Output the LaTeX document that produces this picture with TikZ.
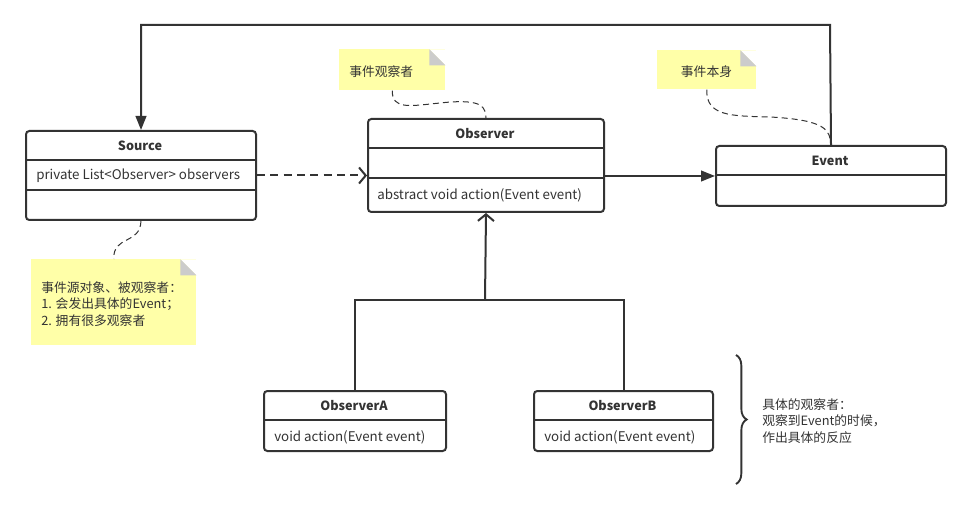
\documentclass[tikz,border=0pt]{standalone}
\usepackage{fontspec}
\setmainfont{Noto Sans CJK SC}
\usetikzlibrary{arrows.meta,decorations.pathreplacing}
\definecolor{lc}{HTML}{333333}
\definecolor{notey}{HTML}{FFFFA8}
\definecolor{foldg}{HTML}{CCCCCC}
\tikzset{
  umlbox/.style={draw=lc, line width=1.5pt, rounded corners=2.5pt, anchor=north west, inner sep=0pt, fill=white},
  sepline/.style={draw=lc, line width=1.5pt},
  ttl/.style={font=\fontsize{9.5}{11}\selectfont\bfseries, text=lc, inner sep=0pt},
  attr/.style={font=\fontsize{10}{12}\selectfont, text=lc, inner sep=0pt, anchor=west},
  note/.style={fill=notey, anchor=north west, inner sep=0pt,
    path picture={
      \fill[white] (path picture bounding box.north east) -- ++(-12pt,0) -- ++(12pt,-12pt) -- cycle;
      \fill[foldg] (path picture bounding box.north east) ++(-12pt,0) -- ++(0,-12pt) -- ++(12pt,0) -- cycle;
    }},
  notetxt/.style={font=\fontsize{9.6}{12.4}\selectfont, text=lc, inner sep=0pt, align=left},
  conn/.style={draw=lc, line width=1.5pt},
  notelink/.style={draw=lc, line width=0.75pt, dash pattern=on 4.5pt off 3pt},
}
\begin{document}
\begin{tikzpicture}[x=0.75pt, y=-0.75pt]
\fill[white] (0,0) rectangle (970,509);
\useasboundingbox (0,0) rectangle (970,509);

% Source
\node[umlbox, minimum width=230*0.75pt, minimum height=89*0.75pt] (src) at (25,130) {};
\draw[sepline] (src.west |- 0,160) -- (src.east |- 0,160);
\draw[sepline] (src.west |- 0,190) -- (src.east |- 0,190);
\node[ttl] (srcT) at (140,146) {Source};
\node[attr] (srcA) at (36,176) {private List<Observer> observers};

% Observer
\node[umlbox, minimum width=236*0.75pt, minimum height=93*0.75pt] (obs) at (367,118) {};
\draw[sepline] (obs.west |- 0,148) -- (obs.east |- 0,148);
\draw[sepline] (obs.west |- 0,178) -- (obs.east |- 0,178);
\node[ttl] (obsT) at (485,134) {Observer};
\node[attr] (obsA) at (377,195) {abstract void action(Event event)};

% Event
\node[umlbox, minimum width=230*0.75pt, minimum height=60*0.75pt] (evt) at (715,145) {};
\draw[sepline] (evt.west |- 0,175) -- (evt.east |- 0,175);
\node[ttl] (evtT) at (830,161) {Event};

% ObserverA / B
\node[umlbox, minimum width=182*0.75pt, minimum height=60*0.75pt] (oa) at (263,390) {};
\draw[sepline] (oa.west |- 0,420) -- (oa.east |- 0,420);
\node[ttl] (oaT) at (354,406) {ObserverA};
\node[attr] (oaA) at (274,437) {void action(Event event)};

\node[umlbox, minimum width=179*0.75pt, minimum height=60*0.75pt] (ob) at (533,390) {};
\draw[sepline] (ob.west |- 0,420) -- (ob.east |- 0,420);
\node[ttl] (obT) at (622.5,406) {ObserverB};
\node[attr] (obA) at (544,437) {void action(Event event)};

% Notes
\node[note, minimum width=165*0.75pt, minimum height=86*0.75pt] (srcN) at (31,259) {};
\node[notetxt, anchor=west] (srcNT) at (41,304) {事件源对象、被观察者：\\1. 会发出具体的Event；\\2. 拥有很多观察者};

\node[note, minimum width=106*0.75pt, minimum height=41*0.75pt] (obsN) at (339,49) {};
\node[notetxt, anchor=west] (obsNT) at (349,72) {事件观察者};

\node[note, minimum width=99*0.75pt, minimum height=39*0.75pt] (evtN) at (657,50) {};
\node[notetxt] (evtNT) at (706.5,72) {事件本身};

% Note links
\draw[notelink] (src.south) .. controls (140,245) and (113,235) .. (srcN.north);
\draw[notelink] (obsN.south) .. controls (392,110) and (410,106) .. (440,103) .. controls (485,98) and (485,108) .. (obs.north);
\draw[notelink] (evtN.south) .. controls (706,116) and (730,116) .. (770,117) .. controls (826,120) and (830,130) .. (evt.north);

% Connectors
\coordinate (topR) at (830,25);
\draw[conn, -{Triangle[length=10.5pt,width=8pt]}] (evt.north) -- (topR) -- (topR -| src.north) -- (src.north);
\draw[conn, dash pattern=on 6pt off 4pt, -{Straight Barb[length=5pt,width=12pt]}] (src.east) -- (src.east -| obs.west);
\draw[conn, -{Triangle[length=10.5pt,width=8pt]}] (evt.west -| obs.east) -- (evt.west);
\coordinate (junc) at (485,300);
\draw[conn] (oa.north) -- (oa.north |- junc) -- (ob.north |- junc) -- (ob.north);
\draw[conn, -{Straight Barb[length=5pt,width=12pt]}] (junc) -- (obs.south);

% Brace
\draw[draw=lc, line width=1.4pt, decorate, decoration={brace, amplitude=8pt}] (736,355) -- (736,484);
\node[notetxt, anchor=west] (braceT) at (762,421) {具体的观察者：\\观察到Event的时候，\\作出具体的反应};
\end{tikzpicture}
\end{document}
